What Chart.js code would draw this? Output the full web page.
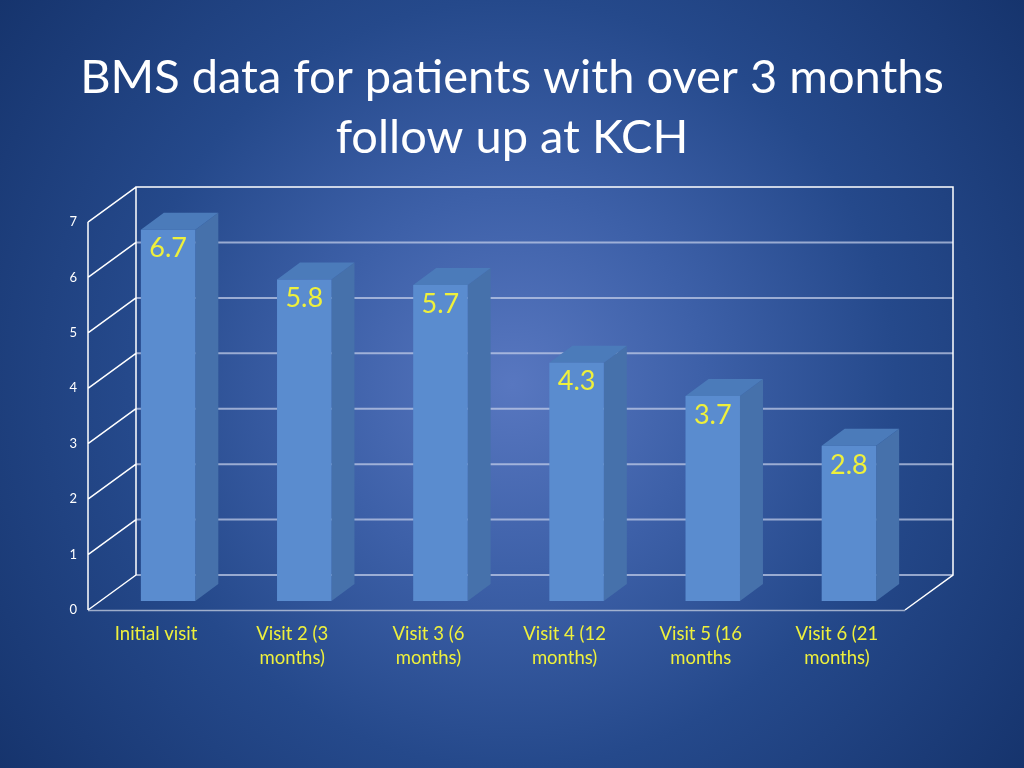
<!DOCTYPE html>
<html>
<head>
<meta charset="utf-8">
<title>BMS data</title>
<script src="https://cdn.jsdelivr.net/npm/chart.js@4.4.1/dist/chart.umd.min.js"></script>
<style>
  html, body { margin: 0; padding: 0; overflow: hidden; }
  body {
    width: 1024px; height: 768px;
    background: radial-gradient(circle farthest-corner at 50% 50%, #5877c0 0%, #3d60a8 30%, #25498b 60%, #16346d 100%);
  }
  canvas { display: block; }
</style>
</head>
<body>
<canvas id="bmsChart" width="1024" height="768"></canvas>
<script>
const visits = [
  "Initial visit",
  ["Visit 2 (3", "months)"],
  ["Visit 3 (6", "months)"],
  ["Visit 4 (12", "months)"],
  ["Visit 5 (16", "months"],
  ["Visit 6 (21", "months)"]
];
const bmsScores = [6.7, 5.8, 5.7, 4.3, 3.7, 2.8];
const yTicks = [0, 1, 2, 3, 4, 5, 6, 7];
const titleLines = ["BMS data for patients with over 3 months", "follow up at KCH"];

// 3d look: back wall offset and where the bars sit in the depth
const depth = { x: 48, y: -35 };
const barShift = { x: 12, y: -9 };
const barDepth = { x: 23, y: -17 };

const threeD = {
  id: "threeD",
  beforeDatasetsDraw(chart) {
    const { ctx, chartArea } = chart;
    const { left, right } = chartArea;
    const yScale = chart.scales.y;
    const y0 = yScale.getPixelForValue(yTicks[0]);
    const yTop = yScale.getPixelForValue(yTicks[yTicks.length - 1]);

    ctx.save();
    // back wall grid lines
    ctx.strokeStyle = "rgba(200,210,235,0.7)";
    ctx.lineWidth = 2;
    yTicks.slice(0, -1).forEach(v => {
      const yy = yScale.getPixelForValue(v) + depth.y;
      ctx.beginPath();
      ctx.moveTo(left + depth.x, yy);
      ctx.lineTo(right + depth.x, yy);
      ctx.stroke();
    });

    // left wall, frame and floor
    ctx.strokeStyle = "#ffffff";
    ctx.lineWidth = 1.5;
    ctx.beginPath();
    ctx.moveTo(left, y0); ctx.lineTo(left, yTop);
    ctx.moveTo(left + depth.x, y0 + depth.y); ctx.lineTo(left + depth.x, yTop + depth.y);
    ctx.lineTo(right + depth.x, yTop + depth.y);
    ctx.lineTo(right + depth.x, y0 + depth.y);
    ctx.lineTo(right, y0);
    yTicks.forEach(v => {
      const yy = yScale.getPixelForValue(v);
      ctx.moveTo(left, yy);
      ctx.lineTo(left + depth.x, yy + depth.y);
    });
    ctx.stroke();

    ctx.strokeStyle = "rgba(190,200,220,0.8)";
    ctx.lineWidth = 1.5;
    ctx.beginPath();
    ctx.moveTo(left, y0 + 0.5);
    ctx.lineTo(right, y0 + 0.5);
    ctx.stroke();
    ctx.restore();

    // bars: side and top faces, front face drawn by chart.js
    ctx.save();
    ctx.translate(barShift.x, barShift.y);
    chart.getDatasetMeta(0).data.forEach(bar => {
      const { x, y, base, width } = bar.getProps(["x", "y", "base", "width"], true);
      const x1 = x - width / 2, x2 = x + width / 2;
      ctx.fillStyle = "#4671AB";
      ctx.beginPath();
      ctx.moveTo(x2, y);
      ctx.lineTo(x2 + barDepth.x, y + barDepth.y);
      ctx.lineTo(x2 + barDepth.x, base + barDepth.y);
      ctx.lineTo(x2, base);
      ctx.closePath();
      ctx.fill();
      ctx.fillStyle = "#4B7BBA";
      ctx.beginPath();
      ctx.moveTo(x1, y);
      ctx.lineTo(x2, y);
      ctx.lineTo(x2 + barDepth.x, y + barDepth.y);
      ctx.lineTo(x1 + barDepth.x, y + barDepth.y);
      ctx.closePath();
      ctx.fill();
    });
  },
  afterDatasetsDraw(chart) {
    const { ctx } = chart;
    ctx.restore();
    ctx.save();
    ctx.fillStyle = "#EEF03C";
    ctx.font = "27px Lato";
    ctx.textAlign = "center";
    ctx.textBaseline = "middle";
    chart.getDatasetMeta(0).data.forEach((bar, i) => {
      ctx.fillText(String(bmsScores[i]), bar.x + barShift.x, bar.y + barShift.y + 19);
    });
    ctx.restore();
  }
};

new Chart(document.getElementById("bmsChart"), {
  type: "bar",
  data: {
    labels: visits,
    datasets: [{
      data: bmsScores,
      backgroundColor: "#5A8CCF",
      borderWidth: 0,
      categoryPercentage: 1,
      barPercentage: 0.4,
      clip: false
    }]
  },
  options: {
    responsive: false,
    animation: false,
    layout: { padding: 0 },
    plugins: {
      legend: { display: false },
      tooltip: { enabled: false },
      title: {
        display: true,
        text: titleLines,
        color: "#ffffff",
        font: { family: "Lato", size: 47, weight: "normal", lineHeight: 1.277 },
        padding: { top: 48, bottom: 54 }
      }
    },
    scales: {
      x: {
        grid: { display: false, drawTicks: false },
        border: { display: false },
        ticks: {
          color: "#EEF03C",
          font: { family: "Lato", size: 18.5, lineHeight: 1.3 },
          padding: 12,
          maxRotation: 0,
          autoSkip: false
        },
        afterFit: s => { s.height = 158; }
      },
      y: {
        min: 0,
        max: 7,
        grid: { display: false, drawTicks: false },
        border: { display: false },
        ticks: {
          stepSize: 1,
          color: "#ffffff",
          font: { family: "Lato", size: 13 },
          padding: 11
        },
        afterFit: s => { s.width = 88; }
      },
      // empty right axis, only keeps the room right of the floor
      spacer: {
        position: "right",
        grid: { display: false, drawTicks: false },
        border: { display: false },
        ticks: { display: false },
        afterFit: s => { s.width = 119; }
      }
    }
  },
  plugins: [threeD]
});
</script>
</body>
</html>
